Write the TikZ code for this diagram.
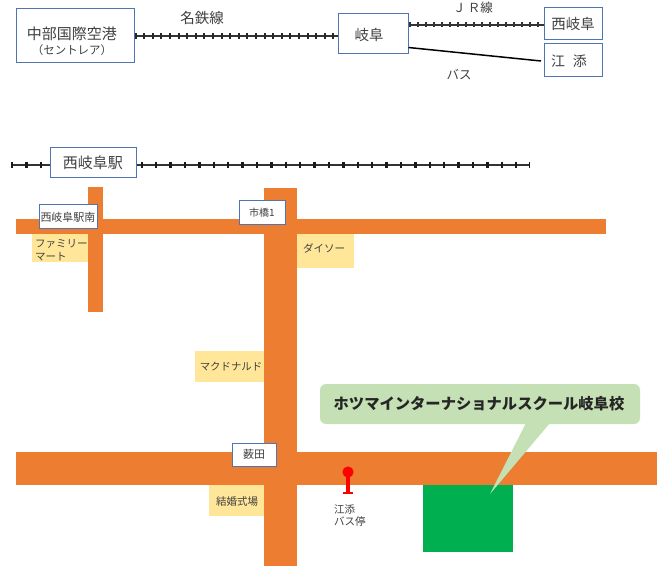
\documentclass[tikz,border=0pt]{standalone}
\usepackage{fontspec}
\setmainfont{Noto Sans CJK JP}
\usetikzlibrary{calc}
\definecolor{road}{HTML}{ED7D31}
\definecolor{shop}{HTML}{FFE699}
\definecolor{bubble}{HTML}{C5E0B4}
\definecolor{school}{HTML}{00B050}
\definecolor{frame}{HTML}{4F74B3}
\definecolor{ink}{HTML}{404040}
\tikzset{
  x=1pt,y=-1pt,
  box/.style={draw=frame,line width=1pt,fill=white,inner sep=0pt,text=ink,align=center},
  roadbar/.style={fill=road,draw=none},
  shopbox/.style={fill=shop,draw=none},
  lbl/.style={inner sep=0pt,text=ink,align=center},
  railbase/.style={draw=black!80,line width=2pt},
  jrtie/.style={draw=black!80,line width=5pt,dash pattern=on 2pt off 6pt},
  meitie/.style={draw=black!85,line width=6pt,dash pattern=on 2pt off 6.6pt},
  nishitie/.style={draw=black!90,line width=6pt,dash pattern=on 2.4pt off 12pt},
}
\newcommand{\fsz}[1]{\fontsize{#1}{#1}\selectfont}
\begin{document}
\begin{tikzpicture}
\useasboundingbox[fill=white] (0,0) rectangle (657,567);
% roads
\fill[roadbar] (16,219) rectangle (606,234);
\fill[roadbar] (88,187) rectangle (103,312);
\fill[roadbar] (264,188) rectangle (297,566);
\fill[roadbar] (16,452) rectangle (657,485);
% shops
\fill[shopbox] (32,234) rectangle (88,262);
\fill[shopbox] (297,234) rectangle (354,268);
\fill[shopbox] (195,351) rectangle (264,382);
\fill[shopbox] (209,485) rectangle (264,516);
\node[lbl,align=left,anchor=west,font=\fsz{10.5}] (fm) at (35,250.5) {ファミリー\\[2.5pt]マート};
\node[lbl,font=\fsz{10.5}] (daiso) at (324,248) {ダイソー};
\node[lbl,font=\fsz{10.4}] (mcd) at (231,367) {マクドナルド};
\node[lbl,font=\fsz{10.5}] (hall) at (237,502) {結婚式場};
% school
\fill[school] (423,485) rectangle (513,552);
% top boxes
\node[box,minimum width=118pt,minimum height=54pt] (airport) at (75,36) {};
\node[lbl,font=\fsz{15}] (airportA) at (72,34) {中部国際空港};
\node[lbl,font=\fsz{11.5}] (airportB) at (72,50) {（セントレア）};
\node[box,minimum width=70pt,minimum height=40pt] (gifu) at (373,34) {};
\node[lbl,font=\fsz{14.5}] (gifuT) at (369,35) {岐阜};
\node[box,minimum width=58pt,minimum height=32pt,font=\fsz{14.5}] (nishi) at (573,24) {西岐阜};
\node[box,minimum width=58pt,minimum height=33pt] (enzoe) at (573,60.5) {};
\node[lbl,font=\fsz{14}] (enzoeT) at (569,61) {江\hspace{0.55em}添};
\coordinate (busend) at (541,61);
\coordinate (busstart) at ($(gifu.south east)+(0,-7)$);
% rail lines
\path (airport.east |- 0,36) coordinate (mA) (gifu.west |- 0,36) coordinate (mB);
\draw[railbase] (mA) -- (mB);
\draw[meitie] (mA) -- (mB);
\path (gifu.east |- 0,25) coordinate (jA) (nishi.west |- 0,25) coordinate (jB);
\draw[railbase,line width=1.4pt] (jA) -- (jB);
\draw[jrtie] (jA) -- (jB);
\draw[line width=1.5pt,black] (busstart) -- (busend);
\node[lbl,font=\fsz{14.5}] (mei) at (202,17.5) {名鉄線};
\node[lbl,font=\fsz{12.5}] (jr) at (473,8) {Ｊ\,Ｒ線};
\node[lbl,font=\fsz{12.5}] (bus) at (459,75) {バス};
% Nishi-Gifu station and line
\node[box,minimum width=86pt,minimum height=30pt,font=\fsz{15}] (station) at (93,163) {西岐阜駅};
\coordinate (railW) at (11,165);
\coordinate (railE) at (530,165);
\path (station.west |- railW) coordinate (sW) (station.east |- railW) coordinate (sE);
\draw[railbase] (railW) -- (sW);
\draw[nishitie] (railW) -- (sW);
\draw[railbase] (sE) -- (railE);
\draw[nishitie] ([xshift=4pt]sE) -- (railE);
% intersection labels
\node[box,minimum width=58pt,minimum height=24pt,font=\fsz{11}] (minami) at (68,217) {西岐阜駅南};
\node[box,minimum width=46pt,minimum height=24pt,font=\fsz{10}] (ichi) at (262,213) {市橋1};
\node[box,minimum width=44pt,minimum height=23pt,font=\fsz{11}] (yabu) at (254,454.5) {薮田};
% bus stop
\draw[red,line width=3.6pt] (348,472) -- (348,493);
\draw[red,line width=2.4pt] (343,493) -- (353,493);
\fill[red] (348,472) circle (5.6);
\node[lbl,align=left,anchor=north west,font=\fsz{10.5}] (stop) at (334,504.5) {江添\\[1.5pt]バス停};
% callout
\fill[bubble,rounded corners=6pt] (320,384) rectangle (640,424);
\fill[bubble] (526,423) -- (550,423) -- (490,494) -- cycle;
\node[inner sep=0pt,font=\fsz{15.3}\bfseries,text=black!85] (title) at (479,404) {ホツマインターナショナルスクール岐阜校};
\end{tikzpicture}
\end{document}
